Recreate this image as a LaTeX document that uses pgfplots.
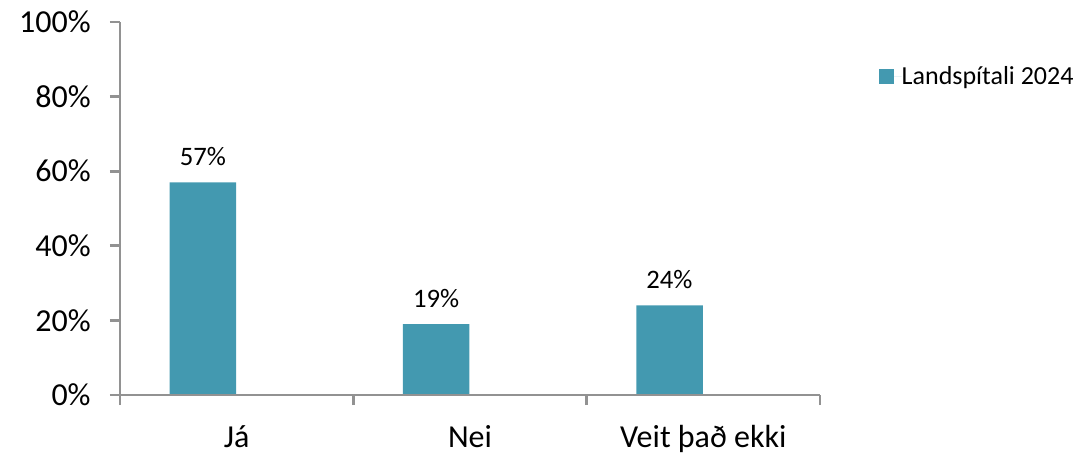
\documentclass[border=0pt]{standalone}
\usepackage{pgfplots}
\pgfplotsset{compat=1.18}
\usepackage{fontspec}
\setmainfont{Carlito}
\definecolor{barc}{HTML}{4399B0}
\definecolor{axc}{HTML}{929292}
\begin{document}
\begin{tikzpicture}
\useasboundingbox (-90pt,-45pt) rectangle (729pt,296.25pt);
\begin{axis}[
  at={(0pt,0pt)}, anchor=south west,
  scale only axis, width=525pt, height=279.75pt,
  xmin=-0.5, xmax=2.5, ymin=0, ymax=100,
  axis x line*=bottom, axis y line*=left,
  axis line style={draw=axc, line width=2pt, -},
  tick style={draw=axc, line width=2pt},
  ytick pos=left, xtick pos=bottom,
  tick align=outside, major tick length=7.5pt,
  ytick={0,20,40,60,80,100},
  yticklabel={\pgfmathprintnumber{\tick}\%},
  /pgf/number format/assume math mode=true,
  yticklabel style={font=\fontsize{24}{28}\selectfont, xshift=-11pt},
  xtick={-0.5,0.5,1.5,2.5},
  x tick label as interval,
  xticklabels={Já,Nei,Veit það ekki},
  xticklabel style={font=\fontsize{24}{28}\selectfont, yshift=-12pt},
  ybar, bar width=0.285, bar shift=-0.145,
  nodes near coords={\pgfmathprintnumber{\pgfplotspointmeta}\%},
  nodes near coords style={font=\fontsize{20}{24}\selectfont, text=black, inner sep=0pt, yshift=12pt},
  legend style={draw=none, fill=none, at={(rel axis cs:1.084,0.855)}, anchor=west,
    font=\fontsize{19.5}{23}\selectfont, inner sep=0pt,
    nodes={inner sep=0pt}},
  legend image code/.code={\fill[barc] (0pt,-5.6pt) rectangle (11.25pt,5.6pt);
    \path (0pt,0pt) -- (17pt,0pt);},
  clip=false,
]
\addplot[fill=barc, draw=none] coordinates {(0,57) (1,19) (2,24)};
\addlegendentry{Landspítali 2024}
\draw[axc, line width=2pt] (axis cs:-0.5,100) -- (axis cs:-0.5,0) -- (axis cs:2.5,0);
\pgfplotsinvokeforeach{0,20,40,60,80,100}{
  \draw[axc, line width=2pt] (axis cs:-0.5,#1) -- ++(-7.5pt,0pt);
}
\pgfplotsinvokeforeach{-0.5,0.5,1.5,2.5}{
  \draw[axc, line width=2pt] (axis cs:#1,0) -- ++(0pt,-7.5pt);
}
\end{axis}
\end{tikzpicture}
\end{document}
